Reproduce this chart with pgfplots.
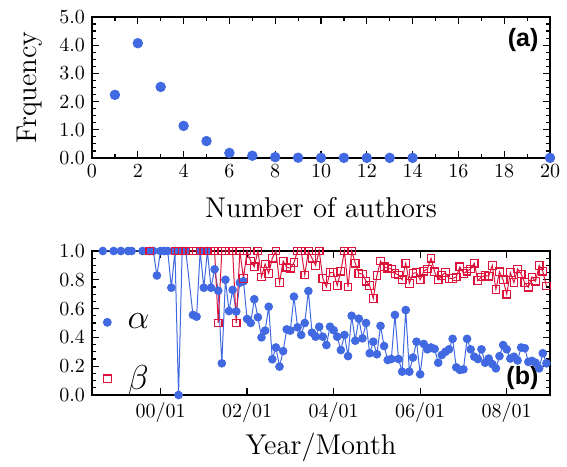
\documentclass[border=0pt]{standalone}
\usepackage{fontspec}
\usepackage{pgfplots}
\pgfplotsset{compat=1.18}
\newfontfamily\helv{Liberation Sans}
\definecolor{myblue}{RGB}{65,105,225}
\definecolor{myred}{RGB}{220,20,60}
\begin{document}
\begin{tikzpicture}
\pgfplotsset{
  every axis/.append style={
    scale only axis, width=229pt,
    tick align=inside,
    axis line style={line width=0.7pt},
    every tick/.style={black, line width=0.6pt},
    major tick length=3.5pt, minor tick length=2pt,
    tick label style={font=\fontsize{10}{12}\selectfont},
    every axis x label/.style={at={(axis description cs:0.5,0)}, anchor=center, font=\fontsize{14.3}{17}\selectfont},
    every axis y label/.style={at={(axis description cs:-0.135,0.5)}, rotate=90, anchor=center, font=\fontsize{14.3}{17}\selectfont},
    clip=false,
  }
}
% bottom panel
\begin{axis}[height=72pt, xmin=-19, xmax=108, ymin=0, ymax=1,
  xtick={0,24,48,72,96}, xticklabels={00/01,02/01,04/01,06/01,08/01},
  ytick={0,0.2,0.4,0.6,0.8,1.0}, minor y tick num=3,
  yticklabel style={/pgf/number format/.cd, fixed, fixed zerofill, precision=1},
  xlabel={Year/Month}, xlabel style={yshift=-26pt},
  legend style={draw=none, fill=none, at={(0.0,0.625)}, anchor=north west,
    font=\fontsize{16}{19}\selectfont, row sep=13pt, inner xsep=1pt},
  legend cell align=left,
  legend image code/.code={\path (0cm,0cm) (0.5cm,0cm); \draw[#1, only marks] plot coordinates {(0.22cm,0cm)};},
]
\addplot[myblue, line width=0.5pt, mark=*, mark size=1.9pt, forget plot] coordinates {
(-16,1)(-13,1)(-11,1)(-9,1)(-8,1)(-5,1)(-3,1)(-2,1)(-1,0.83)(0,1)(1,1)(2,1)(3,0.745)(4,1)(5,0)(6,1)(7,1)(9,0.556)(10,0.544)(11,1)(12,0.745)(13,1)(14,0.745)(15,0.873)(16,0.724)(17,0.22)(18,0.80)(19,0.583)(20,0.73)(21,0.58)(22,0.78)(23,0.79)(24,0.528)(25,0.50)(26,0.665)(27,0.54)(28,0.40)(29,0.447)(30,0.613)(31,0.248)(32,0.33)(33,0.197)(34,0.305)(35,0.456)(36,0.447)(37,0.683)(38,0.47)(39,0.417)(40,0.50)(41,0.722)(42,0.433)(43,0.405)(44,0.474)(45,0.405)(46,0.347)(47,0.474)(48,0.45)(49,0.405)(50,0.312)(51,0.417)(52,0.27)(53,0.55)(54,0.377)(55,0.53)(56,0.393)(57,0.50)(58,0.29)(59,0.37)(60,0.283)(61,0.48)(62,0.34)(63,0.243)(64,0.25)(65,0.556)(66,0.25)(67,0.162)(68,0.59)(69,0.162)(70,0.26)(71,0.37)(72,0.144)(73,0.354)(74,0.317)(75,0.33)(76,0.32)(77,0.224)(78,0.278)(79,0.30)(80,0.317)(81,0.39)(82,0.192)(83,0.174)(84,0.178)(85,0.39)(86,0.317)(87,0.266)(88,0.25)(89,0.317)(90,0.224)(91,0.253)(92,0.215)(93,0.185)(94,0.27)(95,0.347)(96,0.317)(97,0.253)(98,0.266)(99,0.24)(100,0.33)(101,0.325)(102,0.23)(103,0.237)(104,0.224)(105,0.185)(106,0.29)(107,0.22)
};
\addplot[myred, line width=0.5pt, mark=square, mark size=1.9pt, mark options={solid, line width=0.6pt}, forget plot] coordinates {
(-3,1)(4,1)(5,1)(6,1)(7,1)(9,1)(10,1)(11,1)(12,1)(13,1)(14,1)(15,1)(16,0.5)(17,1)(18,1)(19,1)(20,1)(21,0.5)(22,1)(23,0.81)(24,1)(25,0.93)(26,0.89)(27,1)(28,0.82)(29,0.91)(30,0.845)(31,0.95)(32,1)(33,0.78)(34,0.93)(35,0.887)(36,0.88)(37,0.92)(38,1)(39,1)(40,0.833)(41,1)(42,0.95)(43,0.90)(44,1)(45,0.81)(46,0.75)(47,0.85)(48,0.85)(49,0.76)(50,0.86)(51,1)(52,0.75)(53,1)(54,0.915)(55,0.845)(56,0.84)(57,0.79)(58,0.76)(59,0.67)(60,0.83)(61,0.93)(62,0.89)(63,0.88)(64,0.875)(65,0.845)(66,0.833)(67,0.80)(68,0.915)(69,0.775)(70,0.845)(71,0.85)(72,0.80)(73,0.86)(74,0.875)(75,0.95)(76,0.856)(77,0.80)(78,0.83)(79,0.85)(80,0.81)(81,0.81)(82,0.82)(83,0.89)(84,0.845)(85,0.86)(86,0.875)(87,0.915)(88,0.794)(89,0.82)(90,0.83)(91,0.825)(92,0.90)(93,0.734)(94,0.856)(95,0.80)(96,0.70)(97,0.85)(98,0.78)(99,0.875)(100,0.84)(101,0.78)(102,0.748)(103,0.82)(104,0.79)(105,0.90)(106,0.86)(107,0.757)
};
\addlegendimage{mark=*, myblue, mark size=2pt}
\addlegendentry{$\alpha$}
\addlegendimage{mark=square, myred, mark size=1.9pt, mark options={line width=0.6pt}}
\addlegendentry{$\beta$}
\node[anchor=east, font=\helv\bfseries\fontsize{12.5}{14}\selectfont] at (rel axis cs:0.99,0.12) {(b)};
\end{axis}
% top panel
\begin{axis}[at={(0pt,118.5pt)}, height=70.5pt, xmin=0, xmax=20, ymin=0, ymax=5,
  xtick={0,2,...,20}, minor x tick num=1,
  ytick={0,1,2,3,4,5}, minor y tick num=3,
  yticklabel style={/pgf/number format/.cd, fixed, fixed zerofill, precision=1},
  xlabel={Number of authors}, xlabel style={yshift=-25pt},
  ylabel={Frquency},
]
\addplot[only marks, mark=*, mark size=2.4pt, myblue] coordinates {
(1,2.24)(2,4.07)(3,2.52)(4,1.14)(5,0.6)(6,0.18)(7,0.08)(8,0.03)(9,0.01)(10,0.005)(11,0.005)(12,0.005)(13,0.005)(14,0.005)(20,0.005)
};
\node[anchor=east, font=\helv\bfseries\fontsize{12.5}{14}\selectfont] at (rel axis cs:0.99,0.84) {(a)};
\end{axis}
\pgfresetboundingbox
\path[use as bounding box] (-46pt,-35.5pt) rectangle (237.5pt,197.5pt);
\end{tikzpicture}
\end{document}
